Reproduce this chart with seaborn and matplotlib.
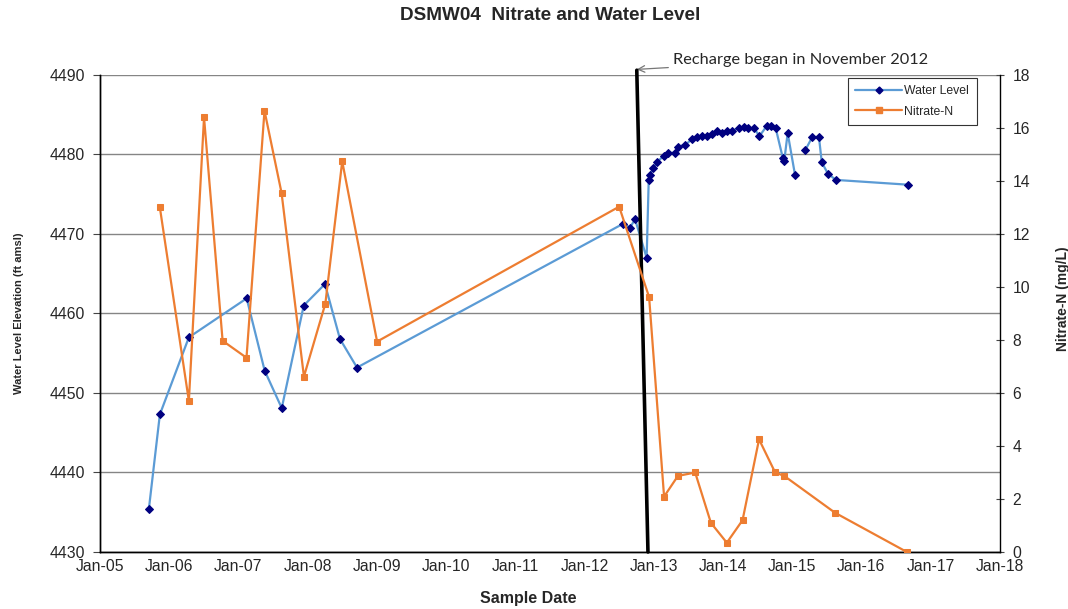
import pandas as pd
import numpy as np
import seaborn as sns
import matplotlib.pyplot as plt
import matplotlib.dates as mdates
from matplotlib.lines import Line2D

# water level readings (ft amsl)
water_dates = ['2005-09-16', '2005-11-13', '2006-04-15', '2007-02-14', '2007-05-20',
               '2007-08-18', '2007-12-12', '2008-04-02', '2008-06-20', '2008-09-18',
               '2012-07-24', '2012-08-28', '2012-09-24', '2012-11-24', '2012-12-05',
               '2012-12-10', '2012-12-30', '2013-01-20', '2013-02-21', '2013-03-19',
               '2013-04-23', '2013-05-11', '2013-06-15', '2013-07-20', '2013-08-16',
               '2013-09-11', '2013-10-11', '2013-11-03', '2013-11-29', '2013-12-26',
               '2014-01-21', '2014-02-17', '2014-03-24', '2014-04-19', '2014-05-15',
               '2014-06-14', '2014-07-12', '2014-08-20', '2014-09-10', '2014-10-06',
               '2014-11-12', '2014-11-20', '2014-12-08', '2015-01-16',
               '2015-03-10', '2015-04-17', '2015-05-22', '2015-06-06', '2015-07-08',
               '2015-08-19', '2016-09-02']
water_level = [4435.4, 4447.3, 4457.0, 4461.9, 4452.8, 4448.1, 4461.0, 4463.7, 4456.8, 4453.2,
               4471.3, 4470.8, 4471.85, 4467.0, 4476.8, 4477.4, 4478.3, 4479.1, 4479.8, 4480.2,
               4480.2, 4481.0, 4481.2, 4481.9, 4482.2, 4482.3, 4482.3, 4482.6, 4482.9, 4482.7,
               4482.9, 4483.0, 4483.3, 4483.4, 4483.3, 4483.3, 4482.3, 4483.6, 4483.6, 4483.3,
               4479.6, 4479.2, 4482.7, 4477.4,
               4480.5, 4482.2, 4482.2, 4479.0, 4477.6, 4476.8, 4476.2]
# the line is broken after this reading
water_gap_after = '2015-01-16'

# nitrate-N readings (mg/L)
nitrate_dates = ['2005-11-13', '2006-04-15', '2006-07-04', '2006-10-10', '2007-02-13',
                 '2007-05-19', '2007-08-17', '2007-12-13', '2008-04-04', '2008-07-02',
                 '2009-01-02', '2012-07-02', '2012-12-07', '2013-02-24', '2013-05-08',
                 '2013-08-07', '2013-10-29', '2014-01-21', '2014-04-14', '2014-07-10',
                 '2014-10-03', '2014-11-20', '2015-08-15', '2016-08-28']
nitrate = [13.0, 5.7, 16.4, 7.97, 7.33, 16.65, 13.55, 6.62, 9.37, 14.74,
           7.94, 13.03, 9.62, 2.09, 2.87, 3.0, 1.1, 0.35, 1.2, 4.25,
           3.0, 2.87, 1.48, 0.0]

# recharge marker line
recharge_dates = ['2012-10-03', '2012-12-01']
recharge_levels = [4490.6, 4430]

blue = '#5B9BD5'
navy = '#000080'
orange = '#ED7D31'

sns.set_style('white')
plt.rcParams['font.family'] = ['Liberation Sans', 'DejaVu Sans']

df_w = pd.DataFrame({'Date': pd.to_datetime(water_dates), 'Level': water_level})
df_w['seg'] = (df_w['Date'] > pd.Timestamp(water_gap_after)).astype(int)
df_n = pd.DataFrame({'Date': pd.to_datetime(nitrate_dates), 'Nitrate': nitrate})

fig = plt.figure(figsize=(10.68, 6.09), dpi=100)
ax = fig.add_axes([0.0936, 0.0936, 0.8427, 0.7833])
ax2 = ax.twinx()

sns.lineplot(data=df_w, x='Date', y='Level', units='seg', estimator=None, ax=ax,
             color=blue, linewidth=1.6, marker='D', markersize=3.6,
             markerfacecolor=navy, markeredgecolor=navy, zorder=3)
sns.lineplot(data=df_n, x='Date', y='Nitrate', estimator=None, ax=ax2,
             color=orange, linewidth=1.6, marker='s', markersize=5,
             markerfacecolor=orange, markeredgecolor=orange, zorder=3)

# vertical recharge line
ax.plot(pd.to_datetime(recharge_dates), recharge_levels, color='black', lw=2.6,
        clip_on=False, zorder=10)

ax.annotate('Recharge began in November 2012',
            xy=(pd.Timestamp(recharge_dates[0]), 4490.7),
            xytext=(pd.Timestamp('2013-04-12'), 4491.9),
            fontsize=11.8, family=['Lato', 'DejaVu Sans'], va='center', ha='left',
            arrowprops=dict(arrowstyle='->', color='#777777', lw=0.9,
                            shrinkA=1, shrinkB=0),
            annotation_clip=False)

# axes limits and ticks
ax.set_xlim(pd.Timestamp('2005-01-01'), pd.Timestamp('2018-01-01'))
ax.set_ylim(4430, 4490)
ax2.set_ylim(0, 18)
ax.set_yticks(np.arange(4430, 4491, 10))
ax2.set_yticks(np.arange(0, 19, 2))
ax.xaxis.set_major_locator(mdates.YearLocator())
ax.xaxis.set_minor_locator(mdates.MonthLocator())
ax.xaxis.set_major_formatter(mdates.DateFormatter('%b-%y'))

ax.yaxis.grid(True, color='#858585', lw=1.0)
ax.set_axisbelow(True)

for a in (ax, ax2):
    for s in a.spines.values():
        s.set_color('black')
        s.set_linewidth(1.0)
    a.spines['top'].set_visible(False)
ax.spines['right'].set_visible(False)

ax.tick_params(axis='x', which='major', direction='in', length=4, labelsize=11.3, pad=5, color='#444444')
ax.tick_params(axis='x', which='minor', direction='in', length=2.5, color='#444444')
ax.tick_params(axis='y', direction='out', length=5, labelsize=11.3, pad=6, color='#444444', left=True)
ax2.tick_params(axis='y', direction='inout', length=6, labelsize=11.3, pad=6, color='#444444', right=True)

ax.set_xlabel('Sample Date', fontsize=11.5, fontweight='bold')
ax.xaxis.set_label_coords(0.476, -0.082)
ax.set_ylabel('Water Level Elevation (ft amsl)', fontsize=8, fontweight='bold')
ax.yaxis.set_label_coords(-0.084, 0.5)
ax2.set_ylabel('Nitrate-N (mg/L)', fontsize=10, fontweight='bold')
ax2.yaxis.set_label_coords(1.062, 0.53)
fig.suptitle('DSMW04  Nitrate and Water Level', fontsize=13.6, fontweight='bold',
             x=0.515, y=0.988)

# legend combining both axes
handles = [Line2D([], [], color=blue, lw=1.6, marker='D', markersize=3.5,
                  markerfacecolor=navy, markeredgecolor=navy),
           Line2D([], [], color=orange, lw=1.6, marker='s', markersize=4,
                  markerfacecolor=orange, markeredgecolor=orange)]
if ax.get_legend():
    ax.get_legend().remove()
leg = ax2.legend(handles, ['Water Level', 'Nitrate-N'], loc='upper right',
                 bbox_to_anchor=(0.974, 0.994), borderaxespad=0, fontsize=8.8,
                 frameon=True, fancybox=False, edgecolor='#333333', framealpha=1,
                 handlelength=3.8, handletextpad=0.2, borderpad=0.6, labelspacing=0.7)
leg.get_frame().set_linewidth(0.8)

fig.savefig('out.png', dpi=100)
